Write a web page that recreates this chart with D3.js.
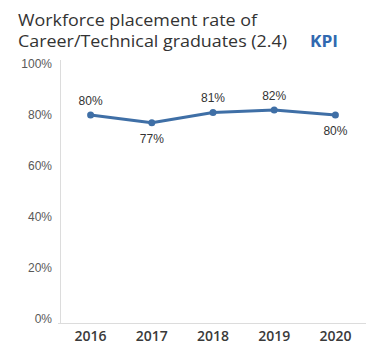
<!DOCTYPE html>
<html>
<head>
<meta charset="utf-8">
<script src="https://cdn.jsdelivr.net/npm/d3@7"></script>
<style>
  html, body { margin: 0; padding: 0; background: #fff; }
  svg { display: block; }
</style>
</head>
<body>
<svg id="chart" width="366" height="344"></svg>
<script>
// Workforce placement rate, 2016–2020
const years = ["2016", "2017", "2018", "2019", "2020"];
const rates = [80, 77, 81, 82, 80];
const yTicks = [0, 20, 40, 60, 80, 100];
const labelSide = ["above", "below", "above", "above", "below"];

const svg = d3.select("#chart");

const x = d3.scaleBand().domain(years).range([60, 366]);
const y = d3.scaleLinear().domain([0, 100]).range([319, 64]);

const font = "'Liberation Sans', Arial, sans-serif";
const headFont = "'Open Sans', 'Liberation Sans', sans-serif";

// Title
const title = svg.append("g").attr("font-family", headFont).attr("fill", "#333");
title.append("text").attr("x", 18).attr("y", 26)
  .attr("font-size", 16).attr("font-weight", 500)
  .attr("textLength", 239).attr("lengthAdjust", "spacingAndGlyphs")
  .text("Workforce placement rate of");
title.append("text").attr("x", 18).attr("y", 47)
  .attr("font-size", 16).attr("font-weight", 500)
  .attr("textLength", 269).attr("lengthAdjust", "spacingAndGlyphs")
  .text("Career/Technical graduates (2.4)");
title.append("text").attr("x", 310).attr("y", 47)
  .attr("font-size", 16).attr("font-weight", "bold").attr("fill", "#3169b0")
  .attr("textLength", 28).attr("lengthAdjust", "spacingAndGlyphs")
  .text("KPI");

// Axis lines
svg.append("line").attr("x1", 60.5).attr("x2", 60.5).attr("y1", 60).attr("y2", 323)
  .attr("stroke", "#dcdcdc").attr("stroke-width", 1);
svg.append("line").attr("x1", 58).attr("x2", 366).attr("y1", 323.5).attr("y2", 323.5)
  .attr("stroke", "#dcdcdc").attr("stroke-width", 1);

// Y tick labels
svg.append("g").selectAll("text").data(yTicks).join("text")
  .attr("x", 52).attr("y", d => y(d)).attr("dy", "0.35em")
  .attr("text-anchor", "end").attr("font-family", font).attr("font-size", 12)
  .attr("fill", "#595959")
  .text(d => d + "%");

// X labels
svg.append("g").selectAll("text").data(years).join("text")
  .attr("x", d => x(d) + x.bandwidth() / 2).attr("y", 341)
  .attr("text-anchor", "middle").attr("font-family", headFont).attr("font-size", 14)
  .attr("font-weight", 600).attr("fill", "#3a3a3a")
  .text(d => d);

const pts = years.map((yr, i) => ({ yr, v: rates[i], side: labelSide[i] }));
const cx = d => x(d.yr) + x.bandwidth() / 2;

// Line
svg.append("path").datum(pts)
  .attr("fill", "none").attr("stroke", "#3f6fa6").attr("stroke-width", 3)
  .attr("stroke-linejoin", "round")
  .attr("d", d3.line().x(cx).y(d => y(d.v)));

// Markers
svg.append("g").selectAll("circle").data(pts).join("circle")
  .attr("cx", cx).attr("cy", d => y(d.v)).attr("r", 3.5).attr("fill", "#3f6fa6");

// Value labels
svg.append("g").selectAll("text").data(pts).join("text")
  .attr("x", cx).attr("y", d => d.side === "above" ? y(d.v) - 10 : y(d.v) + 20)
  .attr("text-anchor", "middle").attr("font-family", font).attr("font-size", 12)
  .attr("fill", "#333")
  .text(d => d.v + "%");
</script>
</body>
</html>
